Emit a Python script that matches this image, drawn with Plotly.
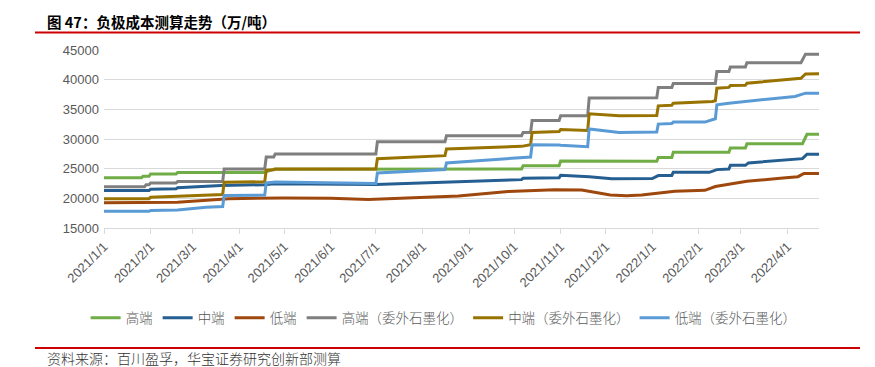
import plotly.graph_objects as go

# ---------------- data ----------------
month_ticks = ['2021-01-01', '2021-02-01', '2021-03-01', '2021-04-01', '2021-05-01', '2021-06-01',
               '2021-07-01', '2021-08-01', '2021-09-01', '2021-10-01', '2021-11-01', '2021-12-01',
               '2022-01-01', '2022-02-01', '2022-03-01', '2022-04-01']
month_labels = ['2021/1/1', '2021/2/1', '2021/3/1', '2021/4/1', '2021/5/1', '2021/6/1',
                '2021/7/1', '2021/8/1', '2021/9/1', '2021/10/1', '2021/11/1', '2021/12/1',
                '2022/1/1', '2022/2/1', '2022/3/1', '2022/4/1']

high_dates = ['2021-01-01', '2021-01-26', '2021-01-27', '2021-01-31', '2021-02-01', '2021-02-18',
              '2021-02-19', '2021-04-17', '2021-04-24', '2021-10-06', '2021-10-07', '2021-10-31',
              '2021-11-01', '2022-01-04', '2022-01-05', '2022-01-14', '2022-01-15', '2022-02-21',
              '2022-02-22', '2022-03-04', '2022-03-05', '2022-04-11', '2022-04-14', '2022-04-22']
high_vals = [23450, 23450, 23720, 23720, 24120, 24120,
             24340, 24340, 24900, 24950, 25500, 25500,
             26300, 26250, 26900, 26900, 27750, 27750,
             28480, 28480, 29200, 29200, 30800, 30800]

mid_dates = ['2021-01-01', '2021-01-31', '2021-02-01', '2021-02-18', '2021-02-19', '2021-03-20',
             '2021-04-18', '2021-04-24', '2021-07-01', '2021-08-17', '2021-10-06', '2021-10-07',
             '2021-10-31', '2021-11-01', '2021-11-20', '2021-12-05', '2022-01-01', '2022-01-05',
             '2022-01-14', '2022-01-15', '2022-02-08', '2022-02-13', '2022-02-21', '2022-02-22',
             '2022-03-04', '2022-03-06', '2022-04-11', '2022-04-14', '2022-04-22']
mid_vals = [21310, 21310, 21550, 21600, 21770, 22150,
            22300, 22450, 22350, 22700, 23150, 23390,
            23450, 23890, 23650, 23300, 23330, 23830,
            23850, 24390, 24390, 24840, 24950, 25560,
            25560, 25970, 26690, 27450, 27450]

low_dates = ['2021-01-01', '2021-02-01', '2021-02-19', '2021-03-08', '2021-03-25', '2021-04-30',
             '2021-06-01', '2021-06-26', '2021-07-22', '2021-08-25', '2021-09-27', '2021-10-28',
             '2021-11-15', '2021-12-04', '2021-12-15', '2021-12-25', '2022-01-16', '2022-02-05',
             '2022-02-12', '2022-03-05', '2022-03-29', '2022-04-08', '2022-04-12', '2022-04-22']
low_vals = [19240, 19300, 19350, 19630, 19950, 20050,
            20000, 19800, 20080, 20380, 21150, 21450,
            21400, 20550, 20450, 20550, 21200, 21350,
            22000, 22870, 23440, 23650, 24200, 24200]

high_ext_dates = ['2021-01-01', '2021-01-28', '2021-01-29', '2021-01-31', '2021-02-01', '2021-02-18',
                  '2021-02-19', '2021-03-21', '2021-03-22', '2021-04-18', '2021-04-19', '2021-04-24',
                  '2021-04-25', '2021-07-01', '2021-07-02', '2021-08-16', '2021-08-17', '2021-10-06',
                  '2021-10-07', '2021-10-12', '2021-10-13', '2021-10-31', '2021-11-01', '2021-11-19',
                  '2021-11-20', '2022-01-04', '2022-01-05', '2022-01-14', '2022-01-15', '2022-02-12',
                  '2022-02-13', '2022-02-21', '2022-02-22', '2022-03-04', '2022-03-05', '2022-04-10',
                  '2022-04-13', '2022-04-22']
high_ext_vals = [21940, 21940, 22300, 22300, 22600, 22600,
                 22820, 22820, 24960, 24960, 26970, 26970,
                 27480, 27480, 29550, 29550, 30550, 30550,
                 31110, 31110, 33120, 33120, 33910, 33910,
                 36900, 36950, 38670, 38670, 39370, 39370,
                 41360, 41360, 42140, 42140, 42870, 42870,
                 44300, 44300]

mid_ext_dates = ['2021-01-01', '2021-01-31', '2021-02-01', '2021-02-18', '2021-02-19', '2021-03-21',
                 '2021-03-22', '2021-04-18', '2021-04-19', '2021-04-24', '2021-04-25', '2021-07-01',
                 '2021-07-02', '2021-08-16', '2021-08-17', '2021-10-06', '2021-10-12', '2021-10-13',
                 '2021-10-31', '2021-11-01', '2021-11-19', '2021-11-20', '2021-12-10', '2022-01-04',
                 '2022-01-05', '2022-01-14', '2022-01-15', '2022-02-10', '2022-02-12', '2022-02-13',
                 '2022-02-21', '2022-02-22', '2022-03-04', '2022-03-05', '2022-04-10', '2022-04-13',
                 '2022-04-22']
mid_ext_vals = [19920, 19920, 20200, 20250, 20360, 20640,
                22700, 22800, 24730, 24800, 24960, 24960,
                26690, 27190, 28320, 28760, 29040, 31110,
                31250, 31600, 31450, 34250, 33910, 33950,
                35590, 35700, 36040, 36310, 36450, 38560,
                38700, 39000, 39050, 39400, 40240, 40970,
                41000]

low_ext_dates = ['2021-01-01', '2021-01-31', '2021-02-01', '2021-02-18', '2021-02-19', '2021-03-10',
                 '2021-03-21', '2021-03-22', '2021-04-18', '2021-04-19', '2021-04-25', '2021-07-01',
                 '2021-07-02', '2021-08-16', '2021-08-17', '2021-10-12', '2021-10-13', '2021-10-31',
                 '2021-11-01', '2021-11-19', '2021-11-20', '2021-12-10', '2022-01-04', '2022-01-05',
                 '2022-01-14', '2022-01-15', '2022-02-05', '2022-02-12', '2022-02-13', '2022-02-21',
                 '2022-03-24', '2022-04-06', '2022-04-13', '2022-04-22']
low_ext_vals = [17820, 17820, 17950, 18000, 18050, 18500,
                18610, 20470, 20550, 22600, 22750, 22500,
                24280, 24840, 25970, 26970, 29040, 29000,
                28950, 28700, 31680, 31100, 31170, 32510,
                32600, 32850, 32850, 33410, 35760, 36040,
                36880, 37170, 37730, 37730]

series_names = ['高端', '中端', '低端', '高端（委外石墨化）', '中端（委外石墨化）', '低端（委外石墨化）']
series_colors = ['#70AD47', '#255E91', '#9E480E', '#7F7F7F', '#997300', '#5B9BD5']
series_data = [(high_dates, high_vals), (mid_dates, mid_vals), (low_dates, low_vals),
               (high_ext_dates, high_ext_vals), (mid_ext_dates, mid_ext_vals),
               (low_ext_dates, low_ext_vals)]

title_text = '图 47：负极成本测算走势（万/吨）'
source_text = '资料来源：百川盈孚，华宝证券研究创新部测算'

# ---------------- layout geometry ----------------
W, H = 875, 367
ML, MR, MT, MB = 104, 56, 50, 139
PW, PH = W - ML - MR, H - MT - MB


def px_x(x):
    return (x - ML) / PW


def px_y(y):
    return (H - MB - y) / PH


fig = go.Figure()
for name, color, (d, v) in zip(series_names, series_colors, series_data):
    fig.add_trace(go.Scatter(x=d, y=v, mode='lines', name=name,
                             line=dict(color=color, width=3)))

cjk = 'Noto Sans CJK SC'
fig.update_layout(
    width=W, height=H,
    margin=dict(l=ML, r=MR, t=MT, b=MB, autoexpand=False),
    paper_bgcolor='white', plot_bgcolor='white',
    showlegend=True,
    legend=dict(orientation='h', xref='container', yref='container',
                x=0.507, xanchor='center', y=1 - 318 / H, yanchor='middle',
                font=dict(family=cjk, size=13.5, color='#595959', weight=300),
                bgcolor='rgba(0,0,0,0)'),
    xaxis=dict(type='date', range=['2021-01-01', '2022-04-22'],
               tickmode='array', tickvals=month_ticks, ticktext=month_labels,
               tickangle=-45, ticks='outside', ticklen=5, tickcolor='#d9d9d9',
               showline=True, linecolor='#d9d9d9', linewidth=1,
               showgrid=False, zeroline=False,
               tickfont=dict(family='Liberation Sans', size=13, color='#595959')),
    yaxis=dict(range=[15000, 45000], dtick=5000, tick0=15000, tickformat='d',
               showgrid=True, gridcolor='#d9d9d9', gridwidth=1,
               showline=False, zeroline=False, ticks='',
               ticklabelstandoff=4,
               tickfont=dict(family='Liberation Sans', size=13, color='#595959')),
    shapes=[
        dict(type='line', xref='paper', yref='paper', x0=px_x(35), x1=px_x(860),
             y0=px_y(32.5), y1=px_y(32.5), line=dict(color='#CC0000', width=2)),
        dict(type='line', xref='paper', yref='paper', x0=px_x(35), x1=px_x(860),
             y0=px_y(348), y1=px_y(348), line=dict(color='#CC0000', width=2)),
    ],
    annotations=[
        dict(text='<b>' + title_text + '</b>', xref='paper', yref='paper',
             x=px_x(45), y=px_y(21.5), xanchor='left', yanchor='middle', showarrow=False,
             font=dict(family=cjk, size=14.5, color='#000000')),
        dict(text=source_text, xref='paper', yref='paper',
             x=px_x(45), y=px_y(358), xanchor='left', yanchor='middle', showarrow=False,
             font=dict(family=cjk, size=14, color='#333333', weight=300)),
    ],
)

fig.write_html('out.html', config={'displayModeBar': False},
               post_script="document.body.style.margin='0';document.body.style.overflow='hidden';")
